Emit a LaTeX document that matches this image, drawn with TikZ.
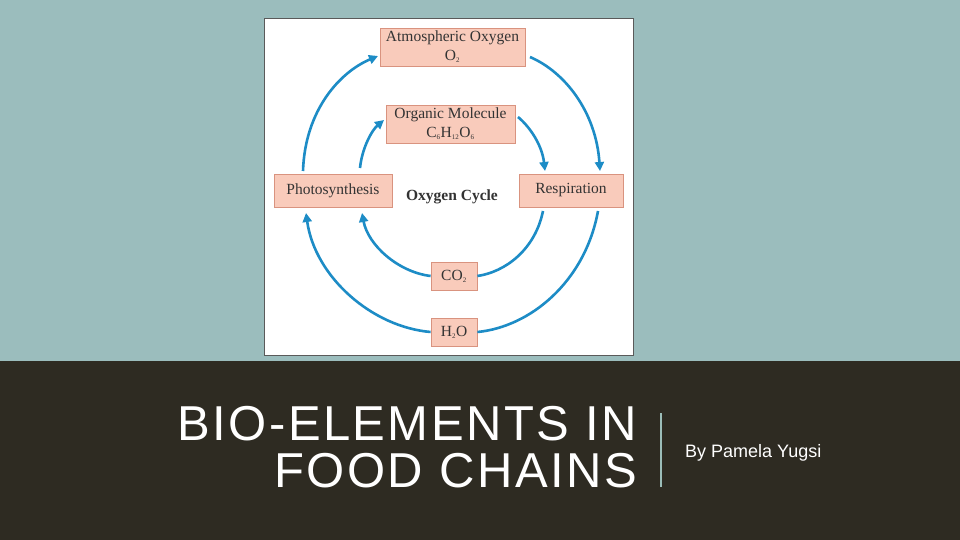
\documentclass[tikz,border=0pt]{standalone}
\usepackage{fontspec}
\setmainfont{Liberation Sans}
\newfontfamily\boxfont{Liberation Serif}
\newfontfamily\titlefont[LetterSpace=5]{Liberation Sans}
\usetikzlibrary{arrows.meta}
\definecolor{bgteal}{HTML}{9BBDBD}
\definecolor{bgdark}{HTML}{2E2B22}
\definecolor{boxfill}{HTML}{F9CBBB}
\definecolor{boxline}{HTML}{D9937F}
\definecolor{arrowblue}{HTML}{1D8CC6}
\definecolor{panelline}{HTML}{5A5A5A}
\definecolor{sepline}{HTML}{9BBDB8}
\newcommand{\sbs}[1]{\textsubscript{\fontsize{7}{7}\selectfont #1}}
\tikzset{
  cbox/.style={draw=boxline, line width=0.8pt, fill=boxfill, inner sep=0pt, font=\boxfont\fontsize{15.5}{19}\selectfont, text=black!80, align=center},
  cyc/.style={draw=arrowblue, line width=2.6pt},
  cycarrow/.style={cyc, -{Triangle[length=9pt,width=9pt]}},
  ttl/.style={anchor=base east, font=\titlefont\fontsize{49}{49}\selectfont, text=white, inner sep=0pt}
}
\begin{document}
\begin{tikzpicture}[x=1pt,y=-1pt]
\useasboundingbox (0,0) rectangle (960,540);
\fill[bgteal] (0,0) rectangle (960,361);
\fill[bgdark] (0,361) rectangle (960,540);
% panel
\node[draw=panelline, line width=0.8pt, fill=white, minimum width=369pt, minimum height=337pt, inner sep=0pt] (panel) at (448.5,186.5) {};
% boxes
\node[cbox, minimum width=145pt, minimum height=38pt] (atm) at (452.5,47) {Atmospheric Oxygen\\O\sbs{2}};
\node[cbox, minimum width=129pt, minimum height=38pt] (org) at (450.5,124) {Organic Molecule\\C\sbs{6}H\sbs{12}O\sbs{6}};
\node[cbox, minimum width=118pt, minimum height=33pt] (pho) at (333,190.5) {Photosynthesis};
\node[cbox, minimum width=104pt, minimum height=33pt] (res) at (571,190.5) {Respiration};
\node[cbox, minimum width=46pt, minimum height=28pt] (co2) at (454,276) {CO\sbs{2}};
\node[cbox, minimum width=46pt, minimum height=28pt] (h2o) at (454,332) {H\sbs{2}O};
\node[font=\boxfont\bfseries\fontsize{15.5}{16}\selectfont, text=black!80] (lbl) at (452,197) {Oxygen Cycle};
% arrow end points
\coordinate (a1) at (303,171);
\coordinate (a2) at (378,56);
\coordinate (b1) at (530,57);
\coordinate (b2) at (600,171);
\coordinate (c1) at (360,168);
\coordinate (c2) at (384,120);
\coordinate (d1) at (518,117);
\coordinate (d2) at (545,171);
\coordinate (e1) at (543,211);
\coordinate (e2) at (362,213);
\coordinate (f1) at (598,211);
\coordinate (f2) at (306,213);
% arrows
\draw[cycarrow] (a1) .. controls (305,110) and (340,72) .. (a2);
\draw[cycarrow] (b1) .. controls (565,72) and (596,112) .. (b2);
\draw[cycarrow] (c1) .. controls (362,148) and (372,130) .. (c2);
\draw[cycarrow] (d1) .. controls (530,127) and (542,145) .. (d2);
\draw[cyc] (e1) .. controls (535,250) and (505,272) .. (co2.east);
\draw[cycarrow] (co2.west) .. controls (398,272) and (368,245) .. (e2);
\draw[cyc] (f1) .. controls (585,282) and (530,327) .. (h2o.east);
\draw[cycarrow] (h2o.west) .. controls (372,327) and (315,277) .. (f2);
% title
\node[ttl] (t1) at (637,440) {BIO-ELEMENTS IN};
\node[ttl] (t2) at (637,487) {FOOD CHAINS};
\coordinate (s1) at (661,413);
\coordinate (s2) at (661,487);
\draw[sepline, line width=2.5pt] (s1) -- (s2);
\node[anchor=base west, font=\fontsize{18}{18}\selectfont, text=white, inner sep=0pt] (by) at (685,457) {By Pamela Yugsi};
\end{tikzpicture}
\end{document}
